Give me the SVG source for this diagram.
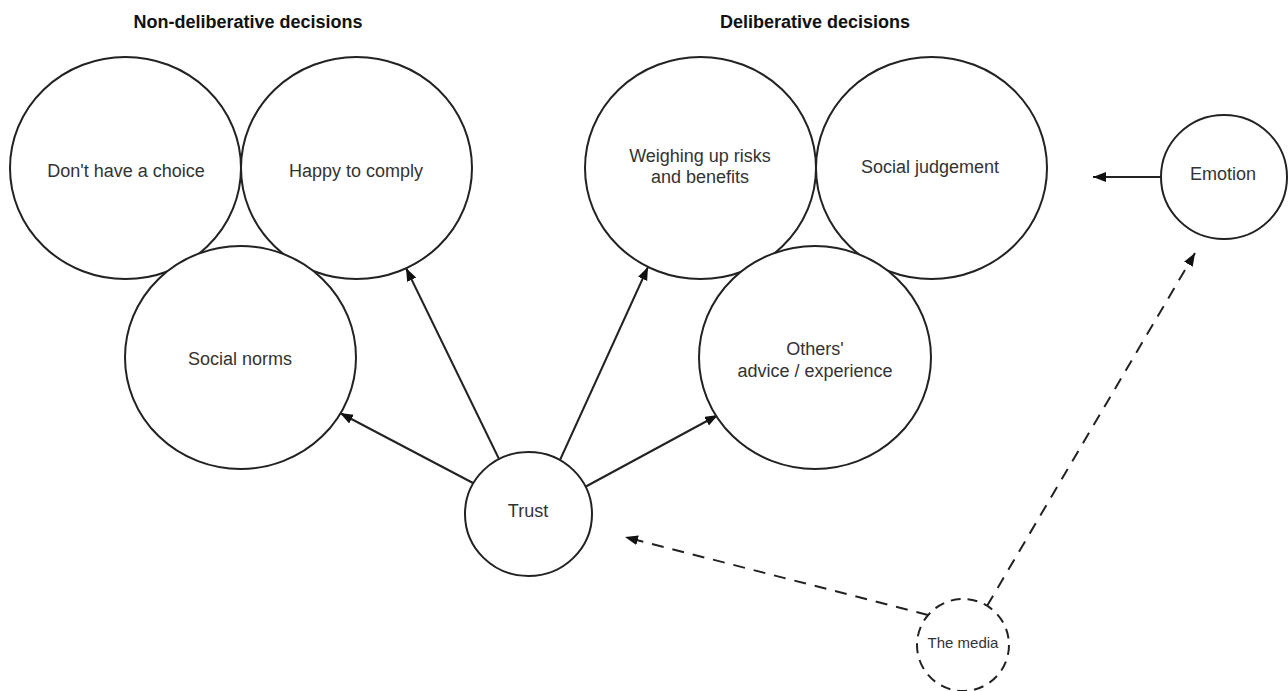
<svg xmlns="http://www.w3.org/2000/svg" width="1288" height="691" viewBox="0 0 1288 691">
<style>
.node{fill:#fff;stroke:#222;stroke-width:2}
.dnode{fill:#fff;stroke:#222;stroke-width:2;stroke-dasharray:10 7}
.lbl{font-family:"Liberation Sans",Arial,sans-serif;font-size:18px;fill:#333;text-anchor:middle}
.title{font-family:"Liberation Sans",Arial,sans-serif;font-size:18px;font-weight:bold;fill:#111;text-anchor:middle}
.edge{stroke:#222;stroke-width:2;fill:none;marker-end:url(#arr)}
.dedge{stroke:#222;stroke-width:2;fill:none;stroke-dasharray:12 9;marker-end:url(#arr)}
</style>
<defs>
<marker id="arr" markerUnits="userSpaceOnUse" markerWidth="14" markerHeight="12" refX="13" refY="5" orient="auto">
<path d="M0,0 L13,5 L0,10 z" fill="#111"/>
</marker>
</defs>
<rect width="1288" height="691" fill="#fff"/>
<text class="title" x="248" y="28">Non-deliberative decisions</text>
<text class="title" x="815" y="28">Deliberative decisions</text>
<g id="connectors">
<line class="edge" x1="473" y1="483" x2="340" y2="413"/>
<line class="edge" x1="499" y1="459" x2="406" y2="268"/>
<line class="edge" x1="560" y1="460" x2="648" y2="267"/>
<line class="edge" x1="585" y1="487" x2="718" y2="415"/>
<line class="edge" x1="1160" y1="177" x2="1093" y2="177"/>
<line class="dedge" x1="928" y1="615" x2="625" y2="537"/>
<line class="dedge" x1="987" y1="606" x2="1195" y2="253"/>
</g>
<g id="dont-have-choice">
<ellipse class="node" cx="125.5" cy="168" rx="115.5" ry="111"/>
<text class="lbl" x="126" y="177">Don't have a choice</text>
</g>
<g id="happy-to-comply">
<ellipse class="node" cx="356.5" cy="168" rx="115.5" ry="111"/>
<text class="lbl" x="356" y="177">Happy to comply</text>
</g>
<g id="social-norms">
<ellipse class="node" cx="240.5" cy="357.5" rx="115.5" ry="111.5"/>
<text class="lbl" x="240" y="365">Social norms</text>
</g>
<g id="weighing">
<ellipse class="node" cx="700.5" cy="168" rx="115.5" ry="111"/>
<text class="lbl" x="700" y="162">Weighing up risks</text>
<text class="lbl" x="700" y="183">and benefits</text>
</g>
<g id="social-judgement">
<ellipse class="node" cx="931.5" cy="168" rx="115.5" ry="111"/>
<text class="lbl" x="930" y="173">Social judgement</text>
</g>
<g id="others-advice">
<ellipse class="node" cx="815" cy="357.5" rx="116" ry="111.5"/>
<text class="lbl" x="815" y="355">Others'</text>
<text class="lbl" x="815" y="377">advice / experience</text>
</g>
<g id="trust">
<ellipse class="node" cx="528.5" cy="514" rx="63.5" ry="62"/>
<text class="lbl" x="528" y="517">Trust</text>
</g>
<g id="emotion">
<ellipse class="node" cx="1224" cy="177" rx="63" ry="62"/>
<text class="lbl" x="1223" y="180">Emotion</text>
</g>
<g id="the-media">
<ellipse class="dnode" cx="963" cy="645" rx="46" ry="46"/>
<text class="lbl" style="font-size:15px" x="963" y="648">The media</text>
</g>
</svg>
